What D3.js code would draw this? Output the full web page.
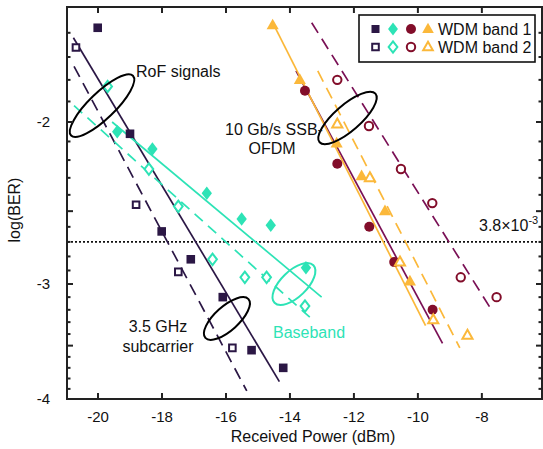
<!DOCTYPE html>
<html>
<head>
<meta charset="utf-8">
<script src="https://cdn.jsdelivr.net/npm/d3@7"></script>
<style>
    html, body { margin: 0; padding: 0; background: #fff; }
    svg { display: block; font-family: "Liberation Sans", Arial, sans-serif; }
</style>
</head>
<body>
<div id="chart-area"></div>
<script>
// 坐标轴刻度
const xTicks = [-20, -18, -16, -14, -12, -10, -8];
const yMajorTicks = [-2, -3, -4];
const yHalfTicks = [-2.5, -3.5];
const yMinorTicks = [-1.6, -1.7, -1.8, -1.9, -2.1, -2.2, -2.3, -2.4, -2.6, -2.7, -2.8, -2.9,
                     -3.1, -3.2, -3.3, -3.4, -3.6, -3.7, -3.8, -3.9];
const fecLevel = -2.70; // 3.8e-3 门限线（按图中位置）

// 测量点 [接收功率 dBm, log(BER)]
const subcarrierBand1 = [[-20.01, -1.58], [-19.0, -2.06], [-18.01, -2.63], [-17.10, -2.82],
                         [-16.10, -3.10], [-15.20, -3.54], [-14.21, -3.70]];
const subcarrierBand2 = [[-20.69, -1.66], [-18.81, -2.46], [-17.49, -2.91], [-15.80, -3.52]];
const basebandBand1 = [[-19.40, -2.05], [-18.30, -2.14], [-16.60, -2.39], [-15.51, -2.55],
                       [-14.60, -2.59], [-13.50, -2.88]];
const basebandBand2 = [[-19.70, -1.83], [-18.41, -2.25], [-17.49, -2.47], [-16.42, -2.82],
                       [-15.41, -2.95], [-14.73, -2.95], [-13.53, -3.17]];
const ofdmCircleBand1 = [[-13.53, -1.85], [-12.52, -2.22], [-11.52, -2.60], [-10.74, -2.84], [-9.54, -3.20]];
const ofdmCircleBand2 = [[-12.52, -1.80], [-11.53, -2.02], [-10.53, -2.25], [-9.55, -2.45],
                         [-8.66, -2.95], [-7.54, -3.10]];
const ofdmTriBand1 = [[-14.54, -1.57], [-13.69, -1.80], [-12.54, -2.11], [-11.76, -2.29],
                      [-11.03, -2.50], [-10.25, -2.98]];
const ofdmTriBand2 = [[-12.52, -2.01], [-11.50, -2.30], [-10.56, -2.84], [-9.52, -3.28], [-8.45, -3.41]];

// 拟合直线（两端点）
const fitSubBand1 = [[-20.77, -1.62], [-14.33, -3.83]];
const fitSubBand2 = [[-20.75, -1.74], [-15.35, -3.92]];
const fitBaseBand1 = [[-19.56, -2.00], [-13.01, -3.10]];
const fitBaseBand2 = [[-20.75, -1.92], [-13.38, -3.26]];
const fitCircleBand1 = [[-13.81, -1.76], [-9.23, -3.48]];
const fitCircleBand2 = [[-13.32, -1.56], [-7.70, -3.20]];
const fitTriBand1 = [[-14.54, -1.56], [-9.76, -3.33]];
const fitTriBand2 = [[-13.13, -1.76], [-8.69, -3.52]];

// 颜色
const cPurple = '#2b1745';
const cTeal = '#2de3b6';
const cMaroon = '#820d2a';
const cMaroonLine = '#7a1055';
const cOrange = '#fbb83a';

const width = 543;
const height = 449;
const plot = { left: 67, right: 542, top: 7, bottom: 399 };

const svg = d3.select('#chart-area').append('svg')
    .attr('width', width)
    .attr('height', height);

const x = d3.scaleLinear().domain([-20.97, -6.12]).range([plot.left, plot.right]);
// y 轴为 log(-log(BER)) 刻度，负值定义域
const y = d3.scaleLog().domain([-1.5, -4]).range([plot.top, plot.bottom]);

// 标记形状
const shapes = {
    square: s => `M${-s},${-s}H${s}V${s}H${-s}Z`,
    diamond: s => `M0,${-s * 1.5}L${s * 1.15},0L0,${s * 1.5}L${-s * 1.15},0Z`,
    circle: s => d3.symbol().type(d3.symbolCircle).size(Math.PI * s * s)(),
    triangle: s => `M0,${-s * 1.2}L${s * 1.1},${s * 0.75}L${-s * 1.1},${s * 0.75}Z`
};

// 门限虚线
svg.append('line')
    .attr('x1', plot.left).attr('x2', plot.right)
    .attr('y1', y(fecLevel)).attr('y2', y(fecLevel))
    .attr('stroke', '#111').attr('stroke-width', 1.6)
    .attr('stroke-dasharray', '2,2');

// 拟合线
const line = d3.line().x(d => x(d[0])).y(d => y(d[1]));
const fits = [
    [fitSubBand1, cPurple, null],
    [fitSubBand2, cPurple, '12,7'],
    [fitBaseBand1, cTeal, null],
    [fitBaseBand2, cTeal, '11,7'],
    [fitCircleBand1, cMaroonLine, null],
    [fitCircleBand2, cMaroonLine, '12,7'],
    [fitTriBand1, cOrange, null],
    [fitTriBand2, cOrange, '12,7']
];
fits.forEach(([pts, color, dash]) => {
    svg.append('path')
        .attr('d', line(pts))
        .attr('fill', 'none')
        .attr('stroke', color)
        .attr('stroke-width', 1.7)
        .attr('stroke-dasharray', dash);
});

// 数据点
function drawPoints(data, shape, size, color, filled) {
    svg.append('g').selectAll('path')
        .data(data)
        .enter()
        .append('path')
        .attr('d', shapes[shape](size))
        .attr('transform', d => `translate(${x(d[0])},${y(d[1])})`)
        .attr('fill', filled ? color : '#fff')
        .attr('stroke', filled ? 'none' : color)
        .attr('stroke-width', 2);
}
drawPoints(subcarrierBand1, 'square', 4.3, cPurple, true);
drawPoints(subcarrierBand2, 'square', 3.3, cPurple, false);
drawPoints(basebandBand1, 'diamond', 4.5, cTeal, true);
drawPoints(basebandBand2, 'diamond', 3.8, cTeal, false);
drawPoints(ofdmCircleBand1, 'circle', 5, cMaroon, true);
drawPoints(ofdmCircleBand2, 'circle', 4.2, cMaroon, false);
drawPoints(ofdmTriBand1, 'triangle', 5.5, cOrange, true);
drawPoints(ofdmTriBand2, 'triangle', 4.6, cOrange, false);

// 椭圆标注
const ellipses = [
    { cx: -19.875, cy: -1.92, rx: 43, ry: 13, angle: -44, color: '#000' },
    { cx: -12.2, cy: -1.98, rx: 37, ry: 13, angle: -41, color: '#000' },
    { cx: -15.97, cy: -3.27, rx: 29, ry: 12, angle: -42, color: '#000' },
    { cx: -13.875, cy: -3.00, rx: 27, ry: 13, angle: -44, color: cTeal }
];
ellipses.forEach(e => {
    svg.append('ellipse')
        .attr('transform', `translate(${x(e.cx)},${y(e.cy)}) rotate(${e.angle})`)
        .attr('rx', e.rx).attr('ry', e.ry)
        .attr('fill', 'none')
        .attr('stroke', e.color)
        .attr('stroke-width', 2);
});

// 文字标注
function addText(tx, ty, str, anchor, color) {
    return svg.append('text')
        .attr('x', tx).attr('y', ty)
        .attr('text-anchor', anchor)
        .attr('font-size', '16px')
        .attr('fill', color || '#111')
        .text(str);
}
addText(136, 77, 'RoF signals', 'start');
addText(274, 135, '10 Gb/s SSB-', 'middle');
addText(272, 154, 'OFDM', 'middle');
addText(158, 332, '3.5 GHz', 'middle');
addText(158, 352, 'subcarrier', 'middle');
addText(309, 338, 'Baseband', 'middle', cTeal);
const fecText = addText(479, 231, '3.8×10', 'start');
fecText.append('tspan').attr('dy', -7).attr('font-size', '11px').text('-3');

// 坐标框和刻度
const axisG = svg.append('g').attr('stroke', '#222').attr('stroke-width', 2);
axisG.append('rect')
    .attr('x', plot.left).attr('y', plot.top)
    .attr('width', plot.right - plot.left).attr('height', plot.bottom - plot.top)
    .attr('fill', 'none');

xTicks.forEach(t => {
    axisG.append('line').attr('x1', x(t)).attr('x2', x(t)).attr('y1', plot.bottom).attr('y2', plot.bottom - 6);
    axisG.append('line').attr('x1', x(t)).attr('x2', x(t)).attr('y1', plot.top).attr('y2', plot.top + 6);
});
const yTickLen = [[yMajorTicks, 6], [yHalfTicks, 6], [yMinorTicks, 3.5]];
yTickLen.forEach(([ticks, len]) => {
    ticks.forEach(t => {
        axisG.append('line').attr('x1', plot.left).attr('x2', plot.left + len).attr('y1', y(t)).attr('y2', y(t));
        axisG.append('line').attr('x1', plot.right).attr('x2', plot.right - len).attr('y1', y(t)).attr('y2', y(t));
    });
});

// 刻度标签
svg.selectAll('.x-label')
    .data(xTicks)
    .enter()
    .append('text')
    .attr('class', 'x-label')
    .attr('x', d => x(d))
    .attr('y', 422)
    .attr('text-anchor', 'middle')
    .attr('font-size', '15px')
    .attr('fill', '#111')
    .text(d => d);

svg.selectAll('.y-label')
    .data(yMajorTicks)
    .enter()
    .append('text')
    .attr('class', 'y-label')
    .attr('x', 50)
    .attr('y', d => y(d) + 5)
    .attr('text-anchor', 'end')
    .attr('font-size', '15px')
    .attr('fill', '#111')
    .text(d => d);

// 轴标题
addText(313, 442, 'Received Power (dBm)', 'middle');
svg.append('text')
    .attr('transform', 'translate(20,210) rotate(-90)')
    .attr('text-anchor', 'middle')
    .attr('font-size', '16px')
    .attr('fill', '#111')
    .text('log(BER)');

// 图例
const legend = svg.append('g');
legend.append('rect')
    .attr('x', 359).attr('y', 15).attr('width', 176).attr('height', 47)
    .attr('fill', '#fff').attr('stroke', '#111').attr('stroke-width', 1.6);
const legendRows = [
    { label: 'WDM band 1', filled: true, yPos: 29 },
    { label: 'WDM band 2', filled: false, yPos: 47 }
];
const legendMarkers = [
    ['square', cPurple, 375.5, 4, 3.3],
    ['diamond', cTeal, 393, 4.3, 3.8],
    ['circle', cMaroon, 411, 5, 4.2],
    ['triangle', cOrange, 428, 5.3, 4.4]
];
legendRows.forEach(row => {
    legendMarkers.forEach(([shape, color, mx, sFill, sOpen]) => {
        legend.append('path')
            .attr('d', shapes[shape](row.filled ? sFill : sOpen))
            .attr('transform', `translate(${mx},${row.yPos})`)
            .attr('fill', row.filled ? color : '#fff')
            .attr('stroke', row.filled ? 'none' : color)
            .attr('stroke-width', 2);
    });
    legend.append('text')
        .attr('x', 438).attr('y', row.yPos + 6)
        .attr('font-size', '16px')
        .attr('fill', '#111')
        .text(row.label);
});
</script>
</body>
</html>
